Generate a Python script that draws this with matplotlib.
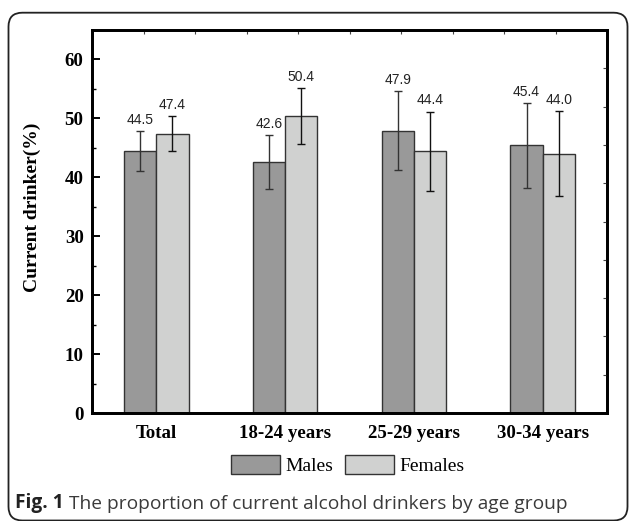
import matplotlib
matplotlib.use("Agg")
import matplotlib.pyplot as plt
from matplotlib.patches import Patch, FancyBboxPatch
import numpy as np

categories = ["Total", "18-24 years", "25-29 years", "30-34 years"]
males = [44.5, 42.6, 47.9, 45.4]
females = [47.4, 50.4, 44.4, 44.0]
males_err = [3.4, 4.5, 6.7, 7.2]
females_err = [3.0, 4.75, 6.75, 7.25]
yticks = [0, 10, 20, 30, 40, 50, 60]

W, H = 629, 521
fig = plt.figure(figsize=(W / 100, H / 100), dpi=100)

# outer rounded frame
frame = FancyBboxPatch((8.5 / W, 0.5 / H), (627.5 - 8.5) / W, (H - 12.7 - 0.5) / H,
                       boxstyle="round,pad=0,rounding_size=0.022",
                       transform=fig.transFigure, facecolor="none",
                       edgecolor="#222222", linewidth=1.3, mutation_aspect=W / H)
fig.add_artist(frame)

ax = fig.add_axes([92 / W, (H - 413) / H, (607 - 92) / W, (413 - 30) / H])

serif = "Liberation Serif"
sans = "Liberation Sans"

x = np.arange(1, len(categories) + 1)
bw = 0.25
male_color = "#999999"
female_color = "#d0d1d0"
edge = "#333333"

ax.bar(x - bw / 2, males, bw, color=male_color, edgecolor=edge, linewidth=1.0, zorder=2)
ax.bar(x + bw / 2, females, bw, color=female_color, edgecolor=edge, linewidth=1.0, zorder=2)
ax.errorbar(x - bw / 2, males, yerr=males_err, fmt="none", ecolor="#333333",
            elinewidth=1.0, capsize=3.2, capthick=1.0, zorder=3)
ax.errorbar(x + bw / 2, females, yerr=females_err, fmt="none", ecolor="#111111",
            elinewidth=1.0, capsize=3.2, capthick=1.0, zorder=3)

for xi, v, e in zip(x - bw / 2, males, males_err):
    ax.annotate(f"{v:.1f}", (xi, v + e), xytext=(0, 3), textcoords="offset points",
                ha="center", va="bottom", fontsize=10, family=sans, color="#222222")
for xi, v, e in zip(x + bw / 2, females, females_err):
    ax.annotate(f"{v:.1f}", (xi, v + e), xytext=(0, 3), textcoords="offset points",
                ha="center", va="bottom", fontsize=10, family=sans, color="#222222")

ax.set_xlim(0.5, 4.5)
ax.set_ylim(0, 65)
ax.set_xticks(x)
ax.set_xticklabels(categories, family=serif, fontweight="bold", fontsize=13.6)
ax.set_yticks(yticks)
ax.set_yticklabels([str(t) for t in yticks], family=serif, fontweight="bold", fontsize=13.6)
ax.set_yticks(np.arange(5, 65, 10), minor=True)
ax.tick_params(axis="y", which="major", direction="in", length=6, width=1.4, pad=6)
ax.tick_params(axis="y", which="minor", direction="in", length=3, width=1.0)
ax.tick_params(axis="x", which="major", direction="in", length=5, width=1.2, pad=8.5)

for s in ax.spines.values():
    s.set_linewidth(1.8)
    s.set_color("black")

# top and right ticks
axt = ax.twiny()
axt.set_xlim(ax.get_xlim())
axt.set_xticks(np.linspace(0.5, 4.5, 11))
axt.tick_params(axis="x", direction="in", length=3, width=0.8, labeltop=False, color="#444444")
axr = ax.twinx()
axr.set_ylim(ax.get_ylim())
axr.set_yticks(np.linspace(0, 65, 11))
axr.tick_params(axis="y", direction="in", length=3, width=0.8, labelright=False, color="#444444")
for a in (axt, axr):
    for s in a.spines.values():
        s.set_linewidth(1.8)

ax.set_ylabel("Current drinker(%)", family=serif, fontweight="bold", fontsize=14)
ax.yaxis.set_label_coords(-0.099, 0.538)

handles = [Patch(facecolor=male_color, edgecolor=edge, linewidth=1.0, label="Males"),
           Patch(facecolor=female_color, edgecolor=edge, linewidth=1.0, label="Females")]
fig.legend(handles=handles, loc="center", bbox_to_anchor=(348 / W, 1 - 465 / H),
           ncol=2, frameon=False, prop={"family": serif, "size": 14},
           handlelength=2.5, handleheight=1.1, handletextpad=0.3, columnspacing=0.6,
           borderpad=0)

t1 = fig.text(15 / W, 1 - 508 / H, "Fig. 1", family="Open Sans", fontweight="bold",
              fontsize=13.8, color="#222222", va="baseline", ha="left")
ax.annotate(" The proportion of current alcohol drinkers by age group",
            xy=(1, 0), xycoords=t1, va="bottom", ha="left", family="Open Sans",
            fontsize=13.8, color="#3a3a3a", annotation_clip=False)

fig.savefig("out.png", dpi=100)
